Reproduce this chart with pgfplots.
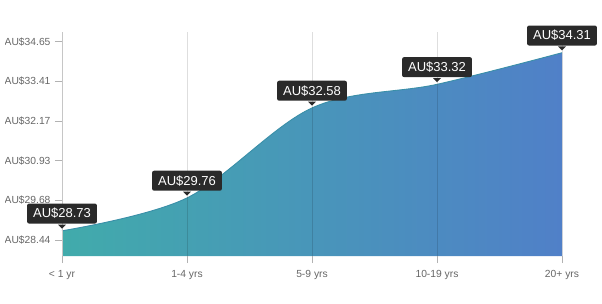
\documentclass[border=0pt]{standalone}
\usepackage{pgfplots}
\pgfplotsset{compat=1.18}
\usepackage{fontspec}
\setmainfont{Liberation Sans}
\usetikzlibrary{shapes.geometric}
\definecolor{cleft}{HTML}{41ABAB}
\definecolor{cright}{HTML}{5080C8}
\definecolor{cline}{HTML}{3A8FA8}
\definecolor{tickgray}{HTML}{666666}
\definecolor{boxdark}{HTML}{2A2A2A}
\begin{document}
\begin{tikzpicture}[x=1pt,y=1pt]
\path[use as bounding box] (0,0) rectangle (602,303);
\begin{scope}
\clip (5,0) rectangle (602,303);
\begin{axis}[
  at={(62pt,47pt)}, anchor=south west,
  scale only axis, width=500pt, height=224pt,
  xmin=0, xmax=4, ymin=27.94, ymax=34.96,
  axis lines*=left,
  x axis line style={draw=none},
  y axis line style={draw=gray!45, line width=0.8pt},
  xtick={0,1,2,3,4},
  xticklabels={< 1 yr,1-4 yrs,5-9 yrs,10-19 yrs,20+ yrs},
  ytick={28.44,29.68,30.93,32.17,33.41,34.65},
  yticklabels={AU\$28.44,AU\$29.68,AU\$30.93,AU\$32.17,AU\$33.41,AU\$34.65},
  tick align=outside,
  major tick length=7pt,
  tick style={draw=gray!60, line width=0.8pt},
  ticklabel style={font=\fontsize{10.3}{12}\selectfont, text=tickgray},
  xticklabel style={yshift=-4pt},
  yticklabel style={xshift=-1pt},
  xmajorgrids,
  major grid style={draw=black, opacity=0.13, line width=0.8pt},
  axis on top,
  clip=false,
  /pgf/number format/assume math mode=true,
]
\addplot[draw=none, left color=cleft, right color=cright, smooth, tension=0.55]
  coordinates {(0,28.73) (1,29.76) (2,32.58) (3,33.32) (4,34.31)} \closedcycle;
\addplot[draw=cline, line width=0.9pt, smooth, tension=0.55]
  coordinates {(0,28.73) (1,29.76) (2,32.58) (3,33.32) (4,34.31)};
% pointer triangles
\addplot[draw=none, mark=none, point meta=y,
  nodes near coords={},
  every node near coord/.style={
    shape=isosceles triangle, shape border rotate=-90,
    isosceles triangle apex angle=90, inner sep=0pt,
    minimum width=8pt, minimum height=4pt,
    fill=boxdark, draw=none, anchor=apex, yshift=2pt}]
  coordinates {(0,28.73) (1,29.76) (2,32.58) (3,33.32) (4,34.31)};
% label boxes
\addplot[draw=none, mark=none, point meta=y,
  nodes near coords={AU\$\pgfmathprintnumber[fixed,precision=2,fixed zerofill]{\pgfplotspointmeta}},
  every node near coord/.style={
    anchor=south, yshift=7pt,
    fill=boxdark, text=white, rounded corners=2pt,
    inner xsep=6pt, inner ysep=0pt, minimum height=20pt,
    font=\fontsize{13}{14}\selectfont}]
  coordinates {(0,28.73) (1,29.76) (2,32.58) (3,33.32) (4,34.31)};
\end{axis}
\end{scope}
\end{tikzpicture}
\end{document}
